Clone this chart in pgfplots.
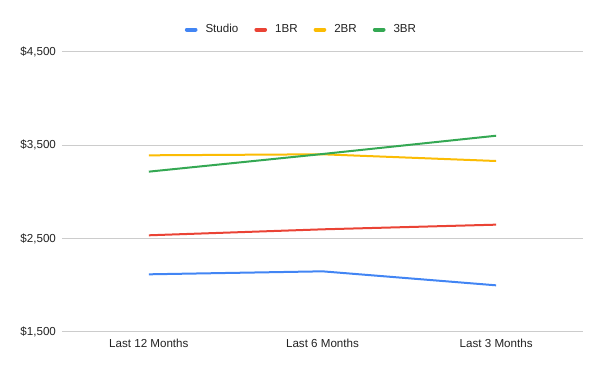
\documentclass[border=0pt]{standalone}
\usepackage{pgfplots}
\pgfplotsset{compat=1.18}
\usepackage{fontspec}
\setmainfont{Liberation Sans}
\definecolor{gblue}{HTML}{4285F4}
\definecolor{gred}{HTML}{EA4335}
\definecolor{gyellow}{HTML}{FBBC04}
\definecolor{ggreen}{HTML}{34A853}
\definecolor{ggrid}{HTML}{CCCCCC}
\definecolor{gtext}{HTML}{222222}
\begin{document}
\begin{tikzpicture}
\begin{axis}[
  name=ax,
  scale only axis,
  width=390.75pt, height=210pt,
  xmin=-0.5, xmax=2.5,
  ymin=1500, ymax=4500,
  axis line style={draw=none},
  ymajorgrids,
  grid style={ggrid, line width=0.75pt},
  major tick length=0pt,
  xtick={0,1,2},
  xticklabels={Last 12 Months, Last 6 Months, Last 3 Months},
  ytick={1500,2500,3500,4500},
  yticklabels={{\$1,500},{\$2,500},{\$3,500},{\$4,500}},
  tick label style={font=\fontsize{8.7}{10}\selectfont, text=gtext},
  yticklabel style={anchor=east, xshift=-1pt},
  xticklabel style={yshift=-2pt},
  clip=false,
  legend columns=4,
  legend style={
    at={(0.459,1.08)}, anchor=center, draw=none, fill=none,
    font=\fontsize{8.7}{10}\selectfont, text=gtext,
    /tikz/every even column/.append style={column sep=11pt},
    nodes={inner sep=1pt},
  },
  legend image code/.code={\draw[line width=3pt, line cap=round] (0pt,0pt) -- (6.5pt,0pt);},
  every axis plot/.append style={line width=1.5pt, mark=none},
]
\addplot[gblue] coordinates {(0,2118) (1,2150) (2,2000)};
\addlegendentry{\hspace{5pt}Studio}
\addplot[gred] coordinates {(0,2536) (1,2600) (2,2650)};
\addlegendentry{\hspace{5pt}1BR}
\addplot[gyellow] coordinates {(0,3393) (1,3404) (2,3332)};
\addlegendentry{\hspace{5pt}2BR}
\addplot[ggreen] coordinates {(0,3218) (1,3407) (2,3603)};
\addlegendentry{\hspace{5pt}3BR}
\end{axis}
\path[use as bounding box] ([xshift=-46.5pt,yshift=-29.25pt]ax.south west) rectangle ([xshift=12.75pt,yshift=39pt]ax.north east);
\end{tikzpicture}
\end{document}
